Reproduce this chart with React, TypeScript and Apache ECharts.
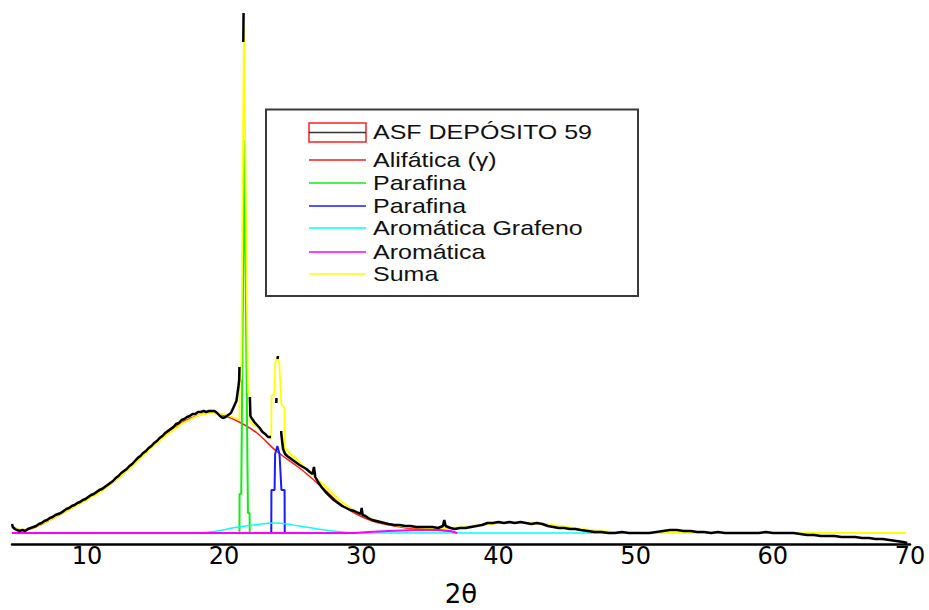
import React, { useEffect, useRef } from "react";
import * as echarts from "echarts";

// ---- data (2θ in degrees, intensity in arbitrary units) ----
const tickLabels = [10, 20, 30, 40, 50, 60, 70];

const legendNames = [
  "ASF DEPÓSITO 59",
  "Alifática (γ)",
  "Parafina",
  "Parafina",
  "Aromática Grafeno",
  "Aromática",
  "Suma",
];
const seriesColors = ["#000000", "#ff1a1a", "#11ee11", "#1a1aff", "#00ffff", "#ff00ff", "#ffff00"];

const asfData: any[] = [
  [4.54, 20], [4.6, 17], [4.75, 15], [4.9, 14], [5.1, 13], [5.3, 14], [5.5, 13], [5.7, 15], [5.9, 16],
  [6.1, 17], [6.3, 18], [6.5, 20], [6.7, 21], [6.9, 23], [7.1, 24], [7.3, 26], [7.5, 27], [7.7, 29],
  [7.9, 30], [8.1, 31], [8.3, 33], [8.5, 35], [8.7, 36], [8.9, 38], [9.1, 39], [9.3, 41], [9.5, 42],
  [9.7, 44], [9.9, 45], [10.1, 47], [10.3, 49], [10.5, 50], [10.7, 52], [10.9, 54], [11.1, 55],
  [11.3, 57], [11.5, 59], [11.7, 61], [11.9, 63], [12.1, 66], [12.3, 68], [12.5, 71], [12.7, 73],
  [12.9, 75], [13.1, 78], [13.3, 80], [13.5, 83], [13.7, 86], [13.9, 88], [14.1, 91], [14.3, 93],
  [14.5, 96], [14.7, 98], [14.9, 101], [15.1, 103], [15.3, 106], [15.5, 108], [15.7, 111], [15.9, 113],
  [16.1, 115], [16.3, 117], [16.5, 120], [16.7, 121], [16.9, 124], [17.1, 125], [17.3, 127], [17.5, 128],
  [17.7, 130], [17.9, 130], [18.1, 132], [18.3, 132], [18.5, 133], [18.7, 132], [18.9, 133], [19.1, 133],
  [19.3, 133], [19.5, 131], [19.7, 128], [19.9, 126], [20.1, 127], [20.3, 129], [20.5, 131], [20.7, 137],
  [20.9, 143], [21.05, 158], [21.1, 164], [21.12, 177], [21.2, "-"], [21.4, 502], [21.42, 531],
  [21.6, "-"], [21.88, 147], [21.92, 128], [22.0, 126], [22.2, 122], [22.4, 119], [22.6, 116],
  [22.8, 112], [23.0, 110], [23.2, 107], [23.42, 107], [23.6, "-"], [23.8, 141], [23.82, 146],
  [23.86, "-"], [23.9, 185], [23.92, 188], [24.0, "-"], [24.16, 113], [24.18, 109], [24.3, 95],
  [24.45, 90], [24.6, 88], [24.8, 86], [25.0, 84], [25.3, 81], [25.5, 79], [25.75, 77], [26.0, 75],
  [26.25, 72], [26.45, 70], [26.55, 77], [26.65, 67], [26.85, 62], [27.1, 57], [27.4, 52], [27.7, 48],
  [28.0, 44], [28.3, 41], [28.6, 38], [28.9, 36], [29.2, 34], [29.5, 33], [29.8, 31], [29.95, 30],
  [30.03, 36], [30.1, 29], [30.3, 28], [30.5, 26], [30.8, 24], [31.1, 23], [31.4, 22], [31.7, 21],
  [32.0, 20], [32.4, 19], [32.8, 19], [33.2, 18], [33.6, 18], [34.0, 17], [34.4, 17], [34.8, 17],
  [35.2, 17], [35.6, 16], [35.95, 18], [36.05, 24], [36.15, 18], [36.5, 16], [36.8, 15], [37.2, 16],
  [37.6, 16], [38.0, 17], [38.4, 18], [38.8, 19], [39.2, 21], [39.6, 21], [40.0, 22], [40.4, 21],
  [40.8, 22], [41.2, 21], [41.6, 22], [42.0, 21], [42.4, 20], [42.8, 21], [43.2, 20], [43.6, 18],
  [44.0, 17], [44.4, 16], [44.8, 16], [45.2, 15], [45.6, 15], [46.0, 14], [46.5, 13], [47.0, 12],
  [47.5, 12], [48.0, 11], [48.5, 11], [49.0, 12], [49.5, 11], [50.0, 11], [50.5, 11], [51.0, 11],
  [51.5, 12], [52.0, 13], [52.5, 14], [53.0, 14], [53.5, 13], [54.0, 13], [54.5, 12], [55.0, 12],
  [55.5, 11], [56.0, 12], [56.5, 11], [57.0, 11], [57.5, 11], [58.0, 11], [58.5, 11], [59.0, 11],
  [59.5, 12], [60.0, 11], [60.5, 11], [61.0, 11], [61.5, 11], [62.0, 10], [62.5, 9], [63.0, 9],
  [63.5, 8], [64.0, 8], [64.5, 8], [65.0, 7], [65.5, 7], [66.0, 7], [66.5, 6], [67.0, 6], [67.5, 5],
  [68.0, 5], [68.5, 4], [69.0, 3], [69.5, 2], [69.8, 1],
];

const alifaticaData = [
  [4.54, 17], [5.3, 14], [6.1, 16], [7.3, 24], [8.5, 33], [9.7, 43], [11.0, 53], [12.2, 65],
  [13.4, 80], [14.6, 96], [15.8, 110], [17.0, 122], [18.2, 129], [19.0, 131], [19.9, 129],
  [21.1, 122], [22.4, 111], [23.8, 93], [25.5, 76], [27.2, 56], [28.4, 41], [29.5, 31], [30.8, 23],
  [32.0, 19], [33.3, 16], [35.7, 14], [36.8, 12],
];

const parafina1Data = [
  [20.9, 11], [21.12, 11], [21.13, 50], [21.25, 50], [21.47, 404], [21.74, 31], [21.86, 31],
  [21.87, 11], [22.1, 11],
];

const parafina2Data = [
  [23.2, 11], [23.44, 11], [23.45, 54], [23.68, 54], [23.72, 90], [23.88, 98], [24.04, 90],
  [24.18, 54], [24.41, 54], [24.42, 11], [24.7, 11],
];

const grafenoData = [
  [17.5, 11], [18.4, 11.5], [19.5, 13], [20.6, 16], [22.1, 19], [23.8, 21], [25.5, 18], [26.8, 15],
  [27.9, 13], [29.0, 11.5], [29.7, 11], [54.0, 11],
];

const aromaticaData = [
  [4.54, 11], [29.5, 11], [30.5, 12], [32.0, 13], [34.0, 14], [35.5, 14], [36.5, 13], [37.0, 11],
];

const sumaData = [
  [4.54, 17], [5.3, 14], [6.1, 16], [7.3, 24], [8.5, 33], [9.7, 42], [11.0, 52], [12.2, 65],
  [13.4, 79], [14.6, 95], [15.8, 109], [17.0, 121], [18.2, 129], [19.0, 131], [19.9, 130],
  [20.6, 127], [21.12, 124], [21.13, 163], [21.25, 165], [21.45, 516], [21.74, 152], [21.86, 150],
  [21.87, 122], [22.4, 117], [23.0, 110], [23.44, 105], [23.46, 148], [23.66, 150], [23.74, 182],
  [23.88, 187], [24.02, 182], [24.17, 140], [24.41, 136], [24.42, 96], [25.0, 88], [25.5, 82],
  [26.2, 72], [27.2, 60], [28.4, 44], [29.5, 33], [30.8, 25], [32.0, 20], [33.3, 17], [35.0, 16],
  [36.5, 16], [37.5, 17], [38.6, 19], [40.0, 21], [42.0, 21], [43.5, 20], [44.5, 18], [46.0, 15],
  [48.3, 12], [50.0, 11], [69.7, 11],
];

const X_MIN = 4.54;
const X_MAX = 70;

export default function App() {
  const ref = useRef<HTMLDivElement>(null);

  useEffect(() => {
    if (!ref.current) return;
    const chart = echarts.init(ref.current, undefined, { renderer: "svg" });

    const seriesData = [asfData, alifaticaData, parafina1Data, parafina2Data, grafenoData, aromaticaData, sumaData];
    const widths = [2.5, 1.5, 2, 2, 1.5, 2, 1.8];
    const zs = [9, 2, 3, 4, 5, 6, 8];
    const smooths = [false, 0.35, false, false, 0.35, false, false];

    const series = seriesData.map((d, i) => ({
      name: legendNames[i],
      type: "line",
      data: d,
      symbol: "none",
      smooth: smooths[i],
      connectNulls: false,
      z: zs[i],
      lineStyle: { color: seriesColors[i], width: widths[i] },
      itemStyle: { color: seriesColors[i] },
    }));

    // legend drawn as graphic box
    const rowY = [132, 160, 183, 206, 228, 252, 274];
    const lx1 = 309;
    const lx2 = 366;
    const legendEls: any[] = [
      {
        type: "rect",
        shape: { x: 266, y: 109.5, width: 372, height: 186.5 },
        style: { fill: "#ffffff", stroke: "#3a3a3a", lineWidth: 2 },
        z: 100,
      },
    ];
    legendNames.forEach((name, i) => {
      if (i === 0) {
        legendEls.push({
          type: "rect",
          shape: { x: lx1, y: 123, width: lx2 - lx1, height: 19 },
          style: { fill: "none", stroke: "#ff2020", lineWidth: 1.5 },
          z: 101,
        });
        legendEls.push({
          type: "line",
          shape: { x1: lx1, y1: rowY[i] + 0.5, x2: lx2, y2: rowY[i] + 0.5 },
          style: { stroke: "#333333", lineWidth: 1.5 },
          z: 101,
        });
      } else {
        legendEls.push({
          type: "line",
          shape: { x1: lx1, y1: rowY[i], x2: lx2, y2: rowY[i] },
          style: { stroke: seriesColors[i], lineWidth: 1.5 },
          z: 101,
        });
      }
      legendEls.push({
        type: "text",
        x: 373,
        y: rowY[i],
        scaleX: 1.19,
        style: {
          text: name,
          fontSize: 21,
          fontFamily: "'Liberation Sans', Arial, sans-serif",
          fill: "#111111",
          verticalAlign: "middle",
          align: "left",
        },
        z: 101,
      });
    });

    chart.setOption({
      animation: false,
      backgroundColor: "#ffffff",
      grid: {
        left: 12,
        right: 19,
        top: 10,
        bottom: 66,
        containLabel: false,
        outerBoundsMode: "none",
      },
      xAxis: {
        type: "value",
        min: X_MIN,
        max: X_MAX,
        name: "2θ",
        nameLocation: "middle",
        nameGap: 37,
        nameTextStyle: { fontSize: 26, fontFamily: "'DejaVu Sans', sans-serif", color: "#000" },
        axisLine: { show: true, onZero: false, lineStyle: { color: "#000", width: 2.5 } },
        axisTick: { show: false },
        splitLine: { show: false },
        axisLabel: {
          customValues: tickLabels,
          fontSize: 24,
          fontFamily: "'DejaVu Sans', sans-serif",
          color: "#000",
          margin: 0,
        },
      },
      yAxis: { type: "value", min: 0, max: 534, show: false },
      graphic: legendEls,
      series,
    });

    return () => chart.dispose();
  }, []);

  return (
    <div
      ref={ref}
      style={{ position: "fixed", left: 0, top: 0, width: 929, height: 610, background: "#fff" }}
    />
  );
}
